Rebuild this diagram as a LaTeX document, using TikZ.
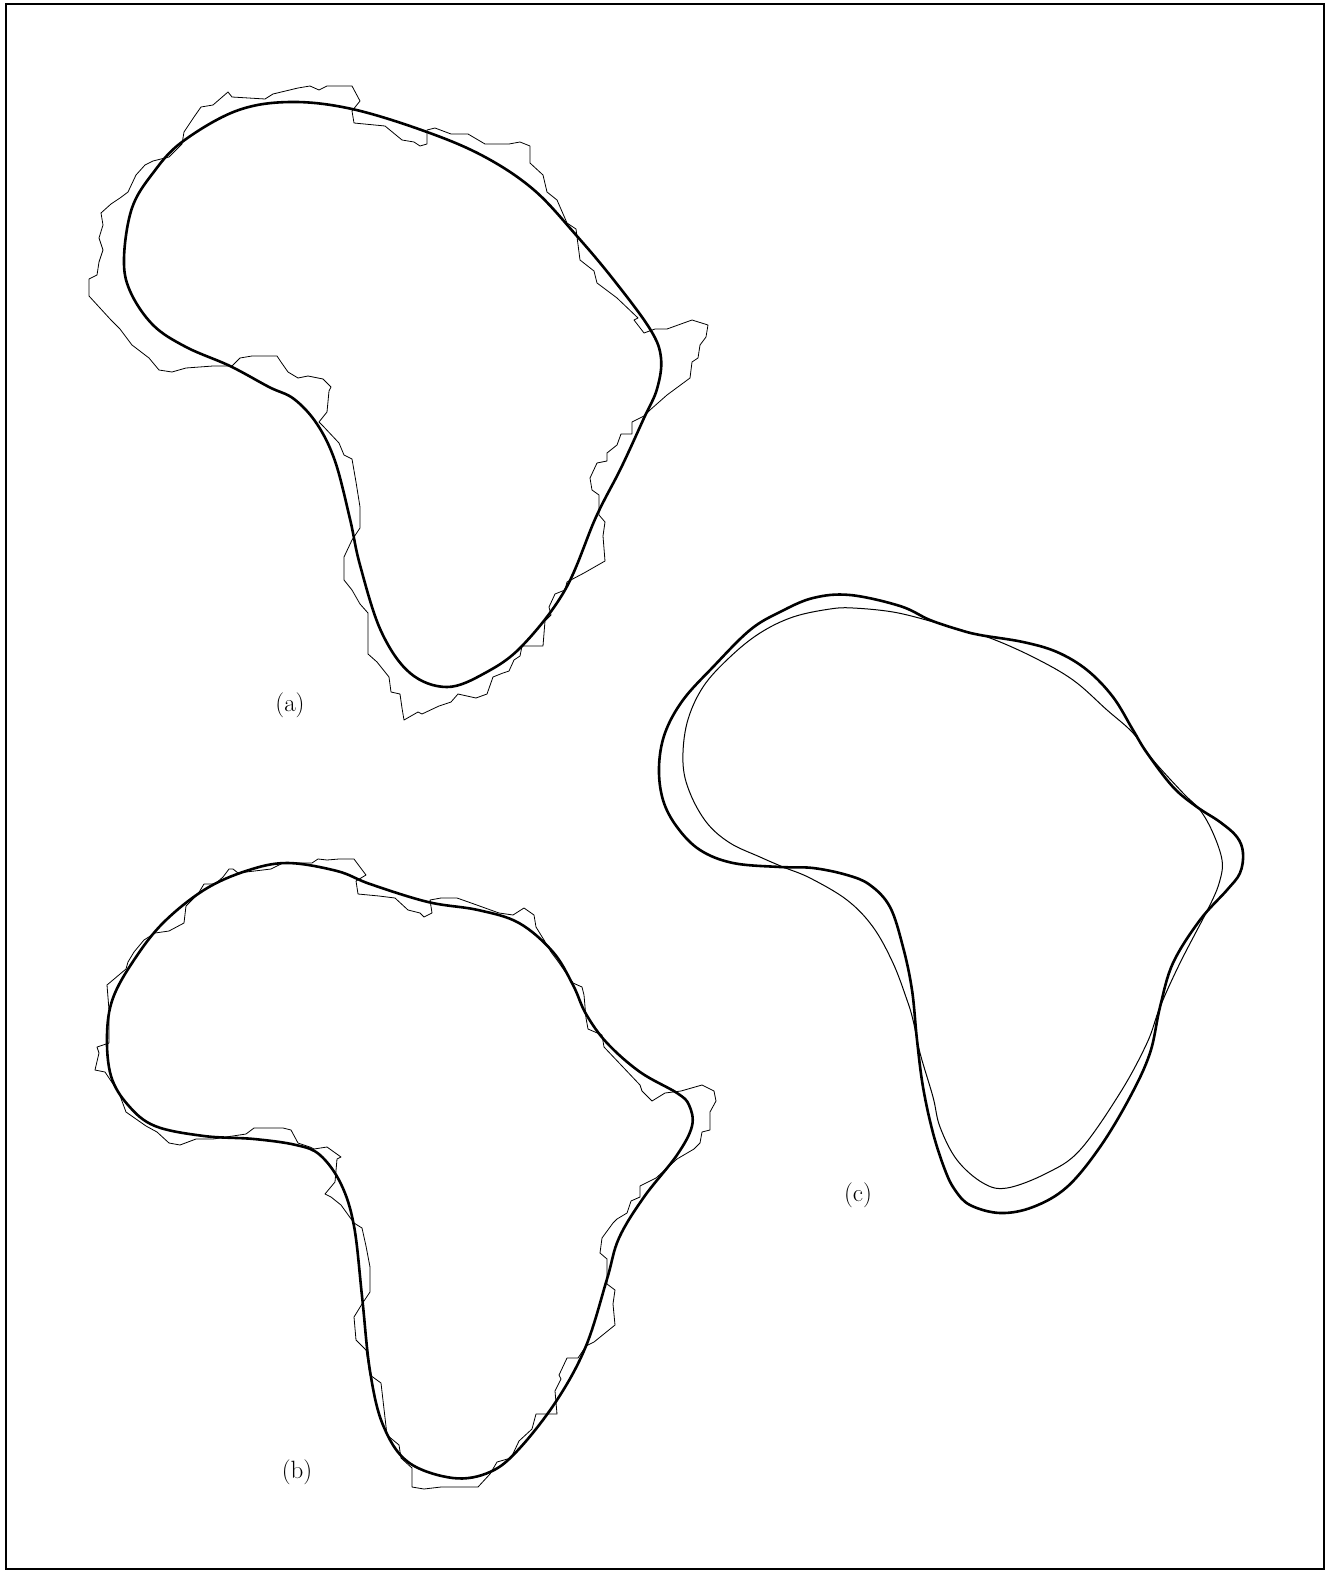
\documentclass[tikz,border=0pt]{standalone}
\begin{document}
\begin{tikzpicture}[x=1pt,y=-1pt,
  smoothc/.style={line width=2.6pt,line join=round},
  thinc/.style={line width=1pt,line join=round},
  jag/.style={line width=0.8pt,line join=round},
  lbl/.style={font=\fontsize{25}{30}\selectfont,inner sep=0pt},
  frame/.style={line width=2.8pt}]
\useasboundingbox (0,0) rectangle (1327,1571);
\draw[frame] (6,4) rectangle (1324,1569);

% ---------- (a) ----------
\draw[jag] (228,92) -- (232,97) -- (265,99) -- (273,94) -- (298,88) -- (310,86) -- (319,90) -- (327,86) -- (352,86) -- (360,101) -- (352,111) -- (354,123) -- (385,126) -- (402,140) -- (414,142) -- (420,146) -- (427,144) -- (427,130) -- (435,128) -- (451,134) -- (468,134) -- (485,144) -- (509,144) -- (520,142) -- (530,146) -- (530,163) -- (543,175) -- (547,192) -- (557,200) -- (567,223) -- (576,229) -- (580,260) -- (594,271) -- (597,283) -- (617,298) -- (638,318) -- (634,320) -- (644,333) -- (655,329) -- (667,329) -- (692,320) -- (708,325) -- (706,337) -- (700,345) -- (698,358) -- (692,362) -- (690,378) -- (667,395) -- (650,410) -- (644,416) -- (632,422) -- (632,434) -- (621,434) -- (617,445) -- (607,453) -- (607,461) -- (597,463) -- (590,478) -- (592,490) -- (599,495) -- (599,515) -- (605,522) -- (603,536) -- (605,561) -- (584,573) -- (567,582) -- (565,590) -- (555,594) -- (549,607) -- (551,615) -- (545,621) -- (543,646) -- (522,646) -- (520,656) -- (514,660) -- (509,671) -- (503,673) -- (493,677) -- (487,694) -- (476,698) -- (458,694) -- (451,702) -- (439,706) -- (422,714) -- (418,712) -- (404,720) -- (402,708) -- (400,694) -- (391,692) -- (389,677) -- (377,662) -- (368,654) -- (368,613) -- (360,604) -- (352,590) -- (344,580) -- (344,557) -- (352,540) -- (360,528) -- (360,507) -- (356,482) -- (352,459) -- (344,455) -- (339,443) -- (323,426) -- (319,422) -- (327,412) -- (329,391) -- (331,387) -- (323,379) -- (308,376) -- (298,378) -- (288,372) -- (281,362) -- (277,356) -- (252,356) -- (240,358) -- (232,366) -- (213,366) -- (186,368) -- (172,372) -- (159,370) -- (149,358) -- (132,345) -- (120,329) -- (111,320) -- (89,296) -- (89,279) -- (97,275) -- (99,262) -- (103,250) -- (99,238) -- (103,225) -- (101,213) -- (111,204) -- (120,198) -- (128,192) -- (136,175) -- (145,165) -- (153,161) -- (169,157) -- (182,144) -- (184,132) -- (194,117) -- (201,107) -- (213,105) -- cycle;
\draw[smoothc] plot[smooth cycle,tension=0.6] coordinates {(290,102) (352,109) (427,132) (485,157) (534,190) (576,235) (613,279) (650,329) (661,358) (657,389) (644,418) (621,468) (596,517) (565,590) (522,646) (485,673) (447,687) (410,673) (381,631) (360,565) (350,519) (335,461) (317,424) (294,399) (269,387) (230,366) (186,347) (153,325) (130,291) (124,258) (132,208) (153,173) (182,142) (236,111)};
\node[lbl] (la) at (290,705) {(a)};

% ---------- (b) ----------
\draw[jag] (283,863) -- (312,863) -- (318,859) -- (327,860) -- (339,859) -- (354,859) -- (366,875) -- (356,881) -- (358,894) -- (379,896) -- (395,898) -- (408,910) -- (420,913) -- (424,917) -- (432,913) -- (430,900) -- (441,898) -- (457,898) -- (474,904) -- (499,913) -- (513,915) -- (524,908) -- (534,915) -- (536,927) -- (544,940) -- (551,952) -- (557,960) -- (573,983) -- (582,987) -- (584,995) -- (586,1018) -- (588,1029) -- (602,1035) -- (604,1047) -- (640,1085) -- (642,1091) -- (652,1101) -- (665,1093) -- (681,1091) -- (702,1085) -- (714,1091) -- (716,1101) -- (710,1112) -- (710,1130) -- (702,1132) -- (700,1143) -- (694,1149) -- (677,1159) -- (656,1178) -- (640,1186) -- (640,1197) -- (631,1201) -- (627,1213) -- (617,1219) -- (613,1223) -- (602,1238) -- (600,1253) -- (607,1259) -- (607,1284) -- (615,1290) -- (613,1304) -- (615,1325) -- (594,1342) -- (586,1346) -- (578,1358) -- (567,1358) -- (559,1375) -- (561,1379) -- (555,1391) -- (557,1414) -- (536,1414) -- (532,1429) -- (519,1441) -- (511,1458) -- (497,1462) -- (490,1474) -- (478,1487) -- (466,1487) -- (441,1487) -- (424,1489) -- (412,1487) -- (412,1468) -- (401,1458) -- (399,1445) -- (387,1435) -- (381,1383) -- (370,1375) -- (366,1350) -- (356,1340) -- (354,1317) -- (362,1304) -- (370,1292) -- (370,1267) -- (366,1246) -- (362,1228) -- (354,1223) -- (341,1205) -- (331,1197) -- (325,1194) -- (335,1182) -- (337,1159) -- (341,1157) -- (327,1147) -- (314,1149) -- (310,1147) -- (298,1143) -- (291,1130) -- (283,1128) -- (254,1128) -- (246,1134) -- (213,1139) -- (196,1139) -- (180,1145) -- (169,1143) -- (157,1132) -- (146,1126) -- (126,1112) -- (119,1093) -- (105,1072) -- (95,1070) -- (99,1053) -- (97,1047) -- (109,1043) -- (109,1010) -- (107,985) -- (126,969) -- (128,962) -- (134,952) -- (144,940) -- (155,933) -- (169,931) -- (184,923) -- (186,906) -- (198,894) -- (204,884) -- (215,884) -- (223,877) -- (229,869) -- (233,869) -- (238,873) -- (271,869) -- cycle;
\draw[smoothc] plot[smooth cycle,tension=0.6] coordinates {(287,863) (337,871) (370,884) (428,902) (478,910) (519,923) (553,952) (573,985) (586,1014) (607,1043) (640,1072) (677,1093) (689,1105) (692,1126) (677,1155) (644,1197) (619,1238) (607,1279) (586,1346) (557,1400) (519,1449) (490,1472) (453,1478) (408,1462) (383,1425) (370,1371) (362,1296) (354,1226) (341,1184) (320,1155) (296,1145) (254,1139) (204,1136) (155,1126) (128,1105) (111,1076) (107,1035) (113,998) (134,960) (163,923) (204,890) (246,871)};
\node[lbl] (lb) at (297,1472) {(b)};

% ---------- (c) ----------
\draw[thinc] plot[smooth cycle,tension=0.6] coordinates {(853,608) (893,612) (930,621) (960,630) (990,638) (1033,657) (1073,680) (1107,710) (1133,733) (1153,760) (1183,793) (1200,810) (1213,833) (1222,860) (1220,880) (1210,905) (1180,963) (1160,1007) (1147,1043) (1120,1093) (1080,1150) (1047,1173) (1007,1188) (983,1183) (957,1160) (940,1127) (933,1097) (920,1053) (913,1020) (907,1000) (893,963) (873,927) (847,900) (810,878) (783,867) (760,857) (730,843) (707,823) (690,793) (683,763) (687,723) (703,687) (730,657) (760,633) (793,617) (830,609)};
\draw[smoothc] plot[smooth cycle,tension=0.6] coordinates {(850,595) (900,606) (930,620) (960,630) (980,635) (1023,642) (1057,652) (1087,670) (1113,697) (1133,730) (1147,753) (1173,787) (1197,807) (1220,822) (1237,837) (1243,853) (1240,873) (1227,890) (1200,920) (1173,963) (1160,1007) (1150,1053) (1130,1097) (1100,1147) (1067,1187) (1033,1207) (1000,1213) (970,1205) (955,1190) (945,1170) (933,1133) (923,1087) (917,1040) (912,990) (903,947) (890,907) (870,885) (847,875) (813,868) (780,867) (733,863) (700,850) (677,827) (663,800) (659,767) (665,733) (683,700) (713,667) (750,630) (780,612) (813,598)};
\node[lbl] (lc) at (858,1195) {(c)};
\end{tikzpicture}
\end{document}
